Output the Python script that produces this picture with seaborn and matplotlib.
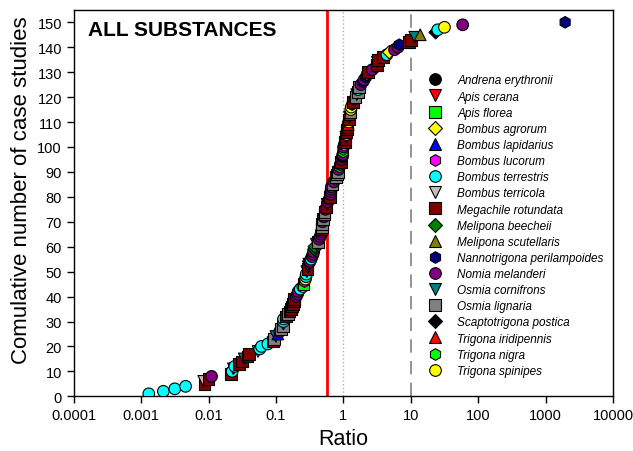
import numpy as np
import pandas as pd
import matplotlib.pyplot as plt
import seaborn as sns

sns.set_theme(style='ticks')
plt.rcParams['font.family'] = ['Liberation Sans', 'DejaVu Sans']
plt.rcParams['text.color'] = 'black'
plt.rcParams['axes.labelcolor'] = 'black'
plt.rcParams['xtick.color'] = 'black'
plt.rcParams['ytick.color'] = 'black'

# Ratio of each case study, sorted
ratio = [0.0013, 0.00214, 0.00316, 0.00457, 0.0087, 0.0085, 0.010, 0.0111, 0.0216, 0.0224,
         0.0234, 0.0245, 0.0282, 0.0316, 0.0339, 0.038, 0.0398, 0.0543, 0.0575, 0.061,
         0.0759, 0.0912, 0.0933, 0.100, 0.107, 0.114, 0.120, 0.127, 0.129, 0.129,
         0.130, 0.141, 0.151, 0.158, 0.166, 0.174, 0.180, 0.184, 0.186, 0.200,
         0.209, 0.214, 0.229, 0.251, 0.257, 0.266, 0.274, 0.279, 0.282, 0.288,
         0.295, 0.302, 0.309, 0.320, 0.331, 0.343, 0.355, 0.363, 0.372, 0.376,
         0.398, 0.421, 0.437, 0.452, 0.468, 0.472, 0.476, 0.479, 0.482, 0.490,
         0.501, 0.513, 0.525, 0.528, 0.543, 0.562, 0.575, 0.592, 0.617, 0.631,
         0.646, 0.653, 0.661, 0.664, 0.692, 0.724, 0.759, 0.776, 0.804, 0.832,
         0.851, 0.881, 0.902, 0.923, 0.944, 0.966, 0.982, 0.993, 1.00, 1.01,
         1.035, 1.06, 1.07, 1.09, 1.11, 1.12, 1.14, 1.16, 1.18, 1.20,
         1.22, 1.23, 1.245, 1.27, 1.29, 1.31, 1.35, 1.40, 1.45, 1.51,
         1.58, 1.64, 1.66, 1.70, 1.82, 1.95, 2.04, 2.16, 2.24, 2.31,
         2.69, 3.09, 3.16, 3.20, 3.24, 3.86, 4.43, 4.79, 5.75, 6.46,
         6.76, 9.33, 10.0, 11.5, 13.8, 23.4, 25.1, 31.6, 58.9, 1950]

# species code of each case study, same order
code = ['BT', 'BT', 'BT', 'BT', 'MR', 'BTe', 'MR', 'NM', 'MR', 'BT',
        'OC', 'BT', 'MR', 'MR', 'OC', 'MR', 'MR', 'BTe', 'BT', 'BT',
        'BT', 'MR', 'OL', 'OC', 'BL', 'NM', 'OL', 'OL', 'OC', 'BT',
        'BT', 'MR', 'OL', 'MR', 'MR', 'MR', 'MR', 'MR', 'MR', 'NM',
        'NM', 'NM', 'BT', 'TS', 'AF', 'BLu', 'TS', 'BT', 'BT', 'OC',
        'MR', 'OC', 'OC', 'NM', 'BT', 'NM', 'NM', 'NM', 'MB', 'MB',
        'OC', 'OL', 'NM', 'NM', 'NM', 'NM', 'MR', 'OL', 'OL', 'NM',
        'OL', 'NM', 'OL', 'OL', 'NM', 'MR', 'AC', 'NM', 'NM', 'MR',
        'NM', 'NM', 'NM', 'NM', 'OL', 'NM', 'TN', 'OL', 'OL', 'OL',
        'NM', 'TN', 'NM', 'MR', 'NM', 'AE', 'NM', 'TN', 'TN', 'NM',
        'TS', 'MR', 'MR', 'AC', 'TS', 'MR', 'MR', 'MR', 'TI', 'TS',
        'MR', 'AC', 'TI', 'OL', 'TS', 'TS', 'NP', 'MR', 'NP', 'OL',
        'OC', 'OL', 'BT', 'OL', 'NM', 'NP', 'NM', 'NP', 'BLu', 'MR',
        'NM', 'TN', 'MR', 'OC', 'MR', 'MR', 'BT', 'BA', 'NM', 'NM',
        'NP', 'MR', 'MR', 'OC', 'MS', 'SP', 'BT', 'TS', 'NM', 'NP']

species_codes = ['AE', 'AC', 'AF', 'BA', 'BL', 'BLu', 'BT', 'BTe', 'MR', 'MB',
                 'MS', 'NP', 'NM', 'OC', 'OL', 'SP', 'TI', 'TN', 'TS']
species_names = ['Andrena erythronii', 'Apis cerana', 'Apis florea', 'Bombus agrorum',
                 'Bombus lapidarius', 'Bombus lucorum', 'Bombus terrestris', 'Bombus terricola',
                 'Megachile rotundata', 'Melipona beecheii', 'Melipona scutellaris',
                 'Nannotrigona perilampoides', 'Nomia melanderi', 'Osmia cornifrons',
                 'Osmia lignaria', 'Scaptotrigona postica', 'Trigona iridipennis',
                 'Trigona nigra', 'Trigona spinipes']
species_colors = ['#000000', '#ff0000', '#00ff00', '#ffff00', '#0000ff', '#ff00ff',
                  '#00ffff', '#c0c0c0', '#800000', '#008000', '#808000', '#000080',
                  '#800080', '#008080', '#808080', '#000000', '#ff0000', '#00ff00', '#ffff00']
species_markers = ['o', 'v', 's', 'D', '^', 'h', 'o', 'v', 's', 'D',
                   '^', 'h', 'o', 'v', 's', 'D', '^', 'h', 'o']

names = dict(zip(species_codes, species_names))
df = pd.DataFrame({'Ratio': ratio,
                   'species': [names[c] for c in code]})
df['count'] = np.arange(1, len(df) + 1)

palette = dict(zip(species_names, species_colors))
markers = dict(zip(species_names, species_markers))
# 'D' is drawn larger than the other markers, so give it a smaller area
sizes = {n: (46 if m == 'D' else 70) for n, m in markers.items()}

fig, ax = plt.subplots(figsize=(6.33, 4.52), dpi=100)
fig.subplots_adjust(left=0.1164, right=0.9684, bottom=0.121, top=0.976)

ax.axvline(0.57, color='#ff0000', lw=2, zorder=1)
ax.axvline(1, color='#b0b0b0', lw=1, ls=':', zorder=1)
ax.axvline(10, color='#808080', lw=1.2, ls=(0, (8, 5)), zorder=1)

sns.scatterplot(data=df, x='Ratio', y='count', hue='species', style='species',
                size='species', hue_order=species_names, style_order=species_names,
                size_order=species_names, palette=palette, markers=markers,
                sizes=sizes, edgecolor='black', linewidth=0.8, ax=ax, zorder=3)

ax.set_xscale('log')
ax.set_xlim(1e-4, 1e4)
ax.set_ylim(0, 155)
xt = [1e-4, 1e-3, 1e-2, 1e-1, 1, 10, 100, 1000, 10000]
ax.set_xticks(xt)
ax.set_xticklabels(['0.0001', '0.001', '0.01', '0.1', '1', '10', '100', '1000', '10000'])
ax.minorticks_off()
ax.set_yticks(range(0, 151, 10))
ax.tick_params(direction='out', length=5, width=1, labelsize=10.5, color='black')
for sp in ax.spines.values():
    sp.set_color('black')
    sp.set_linewidth(1)

ax.set_xlabel('Ratio', fontsize=15.5)
ax.set_ylabel('Comulative number of case studies', fontsize=16)
ax.yaxis.set_label_coords(-0.078, 0.536)
ax.text(0.027, 0.975, 'ALL SUBSTANCES', transform=ax.transAxes, fontsize=15,
        fontweight='bold', va='top', ha='left')

handles, labels = ax.get_legend_handles_labels()
ax.legend(handles, labels, loc='upper left', bbox_to_anchor=(0.64, 0.845),
          frameon=False, prop={'style': 'italic', 'size': 8.5},
          labelspacing=0.35, handletextpad=0.85, borderaxespad=0)

plt.savefig('out.png', dpi=100)
